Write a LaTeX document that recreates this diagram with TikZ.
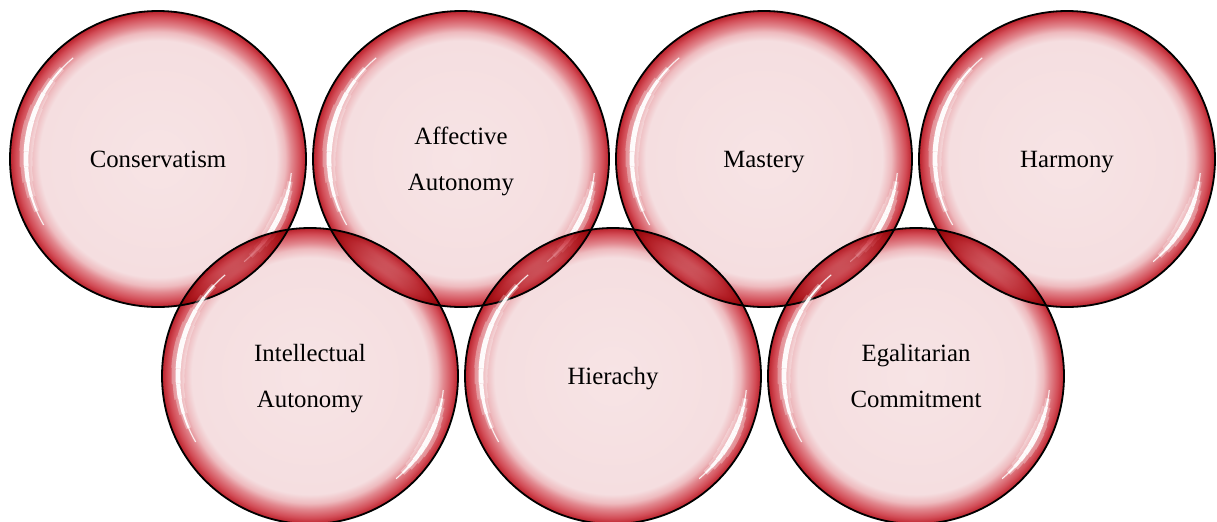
\documentclass[tikz,border=0pt]{standalone}
\usepackage{fontspec}
\setmainfont{Liberation Serif}
\usepackage{tikz}
\usetikzlibrary{positioning}
\usetikzlibrary{calc}

\definecolor{bubblepink}{RGB}{247,228,229}
\definecolor{bubbleinner}{RGB}{245,222,224}
\definecolor{bubblelight}{RGB}{238,186,190}
\definecolor{bubblemid}{RGB}{226,136,143}
\definecolor{bubbledeep}{RGB}{210,76,86}
\definecolor{bubblered}{RGB}{186,32,42}
\pgfdeclareradialshading{bubble}{\pgfpoint{0bp}{0bp}}{%
  color(0bp)=(bubblepink); color(20bp)=(bubbleinner);
  color(21.5bp)=(bubblelight); color(22.5bp)=(bubblemid);
  color(24bp)=(bubbledeep); color(25bp)=(bubblered);
  color(50bp)=(bubblered)}

% white glint along the rim: #1 first angle, #2 span, #3 radius
\newcommand\rimglint[3]{%
  \foreach \k in {0,...,11}{%
    \pgfmathsetmacro\ang{#1+\k*#2/12}%
    \pgfmathsetmacro\wa{7*sin((\k+0.5)*15)}%
    \pgfmathsetmacro\wb{2.6*sin((\k+0.5)*15)}%
    \draw[white, blend mode=normal, opacity=.3, line width=\wa pt]
      ($(path picture bounding box.center)+(\ang:#3)$)
      arc[start angle=\ang, delta angle=#2/12, radius=#3];
    \draw[white, blend mode=normal, opacity=.95, line width=\wb pt]
      ($(path picture bounding box.center)+(\ang:#3)$)
      arc[start angle=\ang, delta angle=#2/12, radius=#3];
  }}

\tikzset{
  value/.style={circle, draw=black, line width=0.9pt,
    minimum size=148pt, inner sep=0pt, outer sep=0pt,
    shade, shading=bubble, blend mode=multiply,
    align=center, text depth=0pt, font=\fontsize{12.4pt}{23pt}\selectfont,
    path picture={\rimglint{130}{80}{66pt}\rimglint{-50}{44}{67pt}}}
}

\begin{document}
\begin{tikzpicture}[x=0.5pt, y=0.5pt]
		\useasboundingbox (0,0) rectangle (1217,-521);
		% upper row
		\node [value] (conservatism) at (158,-159) {Conservatism};
		\node [value, right=3.5pt of conservatism] (affective) {Affective\\Autonomy};
		\node [value, right=3.5pt of affective] (mastery) {Mastery};
		\node [value, right=3.5pt of mastery] (harmony) {Harmony};
		% lower row
		\node [value] (intellectual) at (310,-376) {Intellectual\\Autonomy};
		\node [value, right=3.5pt of intellectual] (hierachy) {Hierachy};
		\node [value, right=3.5pt of hierachy] (egalitarian) {Egalitarian\\Commitment};
	\end{tikzpicture}
\end{document}
